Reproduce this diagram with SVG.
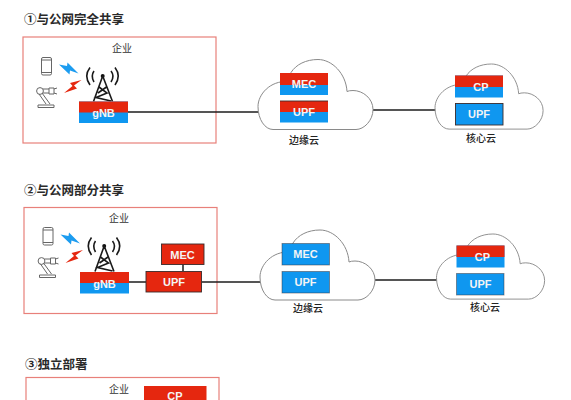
<svg xmlns="http://www.w3.org/2000/svg" xmlns:xlink="http://www.w3.org/1999/xlink" width="571" height="400" viewBox="0 0 571 400">
<style>
.title{font:700 12.5px "Noto Sans CJK SC","Liberation Sans",sans-serif;fill:#2a2a2a}
.lab{font:10px "Noto Sans CJK SC","Liberation Sans",sans-serif;fill:#333;text-anchor:middle}
.cl{font:500 10px "Noto Sans CJK SC","Liberation Sans",sans-serif;fill:#222;text-anchor:middle}
.bt{font:bold 11px "Liberation Sans",Arial,sans-serif;fill:#f4f4f4;text-anchor:middle}
.panel{fill:#fff;stroke:#e8807a;stroke-width:1.2}
.red{fill:#e5270f}
.blue{fill:#0f97f0}
.edge{fill:none;stroke:#1c1c1c;stroke-width:1.5}
.bd{fill:none;stroke:#3a2a2a;stroke-width:.9}
.cloud{fill:#fff;stroke:#8a8a8a;stroke-width:1;vector-effect:non-scaling-stroke}
.ic{fill:none;stroke:#666;stroke-width:1}
.tw{fill:none;stroke:#1a1a1a;stroke-width:1.6}
</style>
<defs>
<path id="cloud" d="M15 70H98C106 70 115 61 115 50C115 39 105 31 95 31Q91 31 89 32C88 14 74 0 60 0C48 0 38 5 33 13Q31 18 30 22C12 21 0 35 0 47C0 60 7 70 15 70Z"/>
<g id="radio">
<rect class="ic" x="41.500" y="57.500" width="10" height="17.500" rx="1.500"/>
<path class="ic" d="M41.500 60H51.500M41.500 72.500H51.500"/>
<polygon fill="#1c9cf0" points="59,64.500 67,66 67.500,62.500 78.500,73.500 70,70.500 69.500,74.500"/>
<polygon class="red" points="81.500,80 70,83 72.500,86 64,93 77,88.500 74,85.500"/>
<g class="ic" stroke-width="1.300">
<circle cx="40" cy="91" r="3.400"/>
<path d="M43 89H49M43 93H49M49 88H54V94H49ZM54 89L57 88M54 93L57 94"/>
<path d="M39 94L46 104M42 93L50 104M38 105H54V107.500H38Z"/>
</g>
<circle cx="102.700" cy="76" r="2" fill="#111"/>
<path class="tw" d="M102.700 76L93.500 101.500M102.700 76L112.500 101.500M99 87L107 93L96 97.500L111 101M106.500 87L98 93"/>
<path class="tw" d="M94 71Q90.500 76 94 82M111 71Q115 76 111 82M90 67.500Q83.500 76 90 85M115 67.500Q121.500 76 115 85"/>
</g>
</defs>

<text class="title" x="24" y="24">①与公网完全共享</text>
<text class="title" x="24" y="195">②与公网部分共享</text>
<text class="title" x="25" y="369">③独立部署</text>

<g id="panel1"><rect class="panel" x="23" y="37" width="193" height="106"/><text class="lab" x="122" y="52">企业</text></g>
<g id="panel2"><rect class="panel" x="24" y="207.500" width="193" height="106"/><text class="lab" x="119" y="222">企业</text></g>
<g id="panel3"><rect class="panel" x="26" y="377.500" width="193" height="40"/><text class="lab" x="119" y="393">企业</text></g>

<g id="connectors">
<path class="edge" d="M128 112H259"/>
<path class="edge" d="M373 110H436"/>
<path class="edge" d="M129 282H146"/>
<path class="edge" d="M202 282H261"/>
<path class="edge" d="M183 264V271"/>
<path class="edge" d="M375 280H437"/>
</g>

<g id="icons1"><use xlink:href="#radio" href="#radio"/></g>
<g id="icons2"><use xlink:href="#radio" href="#radio" transform="translate(1.500 170)"/></g>

<g id="gnb1"><rect class="blue" x="79" y="101.500" width="49" height="21.500"/><rect class="red" x="79" y="101.500" width="49" height="11"/><text class="bt" x="103.500" y="117">gNB</text></g>
<g id="gnb2"><rect class="blue" x="80" y="272" width="49" height="21.500"/><rect class="red" x="80" y="272" width="49" height="11"/><text class="bt" x="104.500" y="287.500">gNB</text></g>

<g id="cloud-edge1"><use xlink:href="#cloud" href="#cloud" class="cloud" transform="translate(258 59.500)"/><text class="cl" x="304" y="144">边缘云</text></g>
<g id="cloud-core1"><use xlink:href="#cloud" href="#cloud" class="cloud" transform="translate(435 64) scale(.94 .93)"/><text class="cl" x="481" y="142">核心云</text></g>
<g id="cloud-edge2"><use xlink:href="#cloud" href="#cloud" class="cloud" transform="translate(260 230) scale(1 1)"/><text class="cl" x="308" y="312">边缘云</text></g>
<g id="cloud-core2"><use xlink:href="#cloud" href="#cloud" class="cloud" transform="translate(436.500 234) scale(.94 .93)"/><text class="cl" x="485" y="311">核心云</text></g>

<g id="mec1"><rect class="blue" x="280" y="73" width="48" height="22"/><rect class="red" x="280" y="73" width="48" height="12"/><text class="bt" x="304" y="88">MEC</text></g>
<g id="upf1"><rect class="blue" x="280" y="101" width="48" height="21.500"/><rect class="red" x="280" y="101" width="48" height="11"/><path class="bd" d="M280 101H328"/><text class="bt" x="304" y="116">UPF</text></g>
<g id="cp1"><rect class="blue" x="455" y="75.500" width="48" height="22"/><rect class="red" x="455" y="75.500" width="48" height="11.500"/><text class="bt" x="481" y="91">CP</text></g>
<g id="upf1c"><rect class="blue" x="455.500" y="103.500" width="47.500" height="21.500"/><rect class="bd" x="455.500" y="103.500" width="47.500" height="21.500"/><text class="bt" x="479" y="118">UPF</text></g>

<g id="upf2"><rect class="red" x="146" y="271.500" width="55.500" height="20.500"/><rect class="bd" x="146" y="271.500" width="55.500" height="20.500"/><text class="bt" x="174" y="286">UPF</text></g>
<g id="mec2"><rect class="red" x="161.500" y="244" width="42.500" height="20.500"/><rect class="bd" x="161.500" y="244" width="42.500" height="20.500"/><text class="bt" x="182.500" y="258.500">MEC</text></g>
<g id="mec2c"><rect class="blue" x="282" y="243.500" width="47.500" height="21.500"/><rect class="bd" x="282" y="243.500" width="47.500" height="21.500" stroke-opacity=".5"/><text class="bt" x="305.500" y="258">MEC</text></g>
<g id="upf2e"><rect class="blue" x="282" y="271.500" width="47.500" height="21.500"/><rect class="bd" x="282" y="271.500" width="47.500" height="21.500" stroke-opacity=".5"/><text class="bt" x="305.500" y="286">UPF</text></g>
<g id="cp2"><rect class="blue" x="456.500" y="245.500" width="48" height="22"/><rect class="red" x="456.500" y="245.500" width="48" height="11.500"/><text class="bt" x="482.500" y="261">CP</text></g>
<g id="upf2c"><rect class="blue" x="456.500" y="273.500" width="47.500" height="21.500"/><rect class="bd" x="456.500" y="273.500" width="47.500" height="21.500" stroke-opacity=".5"/><text class="bt" x="480.500" y="288">UPF</text></g>

<g id="cp3"><rect class="red" x="144" y="386" width="62.500" height="20"/><text class="bt" x="175" y="399.500">CP</text></g>
</svg>
